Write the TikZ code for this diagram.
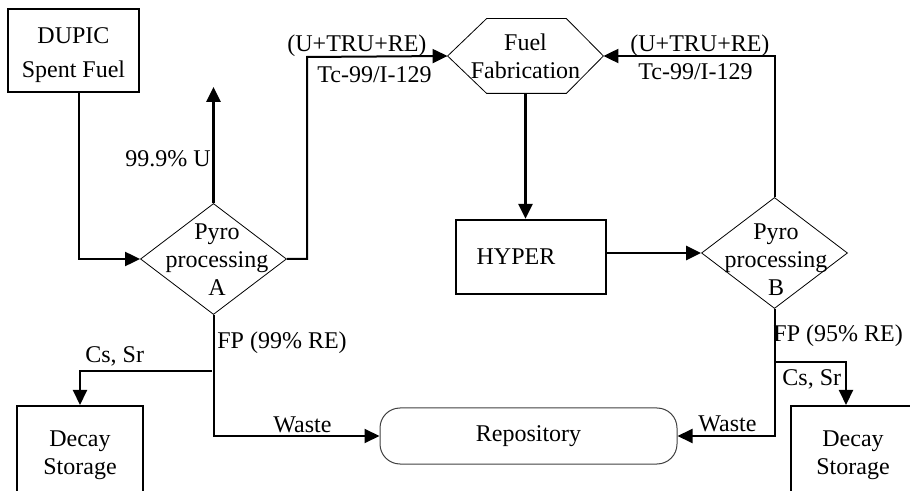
\documentclass[tikz,border=0pt]{standalone}
\usepackage{fontspec}
\setmainfont{Liberation Serif}
\usetikzlibrary{arrows.meta,positioning,shapes.geometric,calc}

\begin{document}
\begin{tikzpicture}[x=0.5pt, y=-0.5pt,
            every node/.style={font=\fontsize{12pt}{14pt}\selectfont},
            box/.style={draw, line width=1.2pt, align=center, inner sep=0pt},
            decay/.style={box, line width=1pt, minimum height=49pt},
            diam/.style={diamond, draw, line width=0.4pt, inner sep=0pt,
                    minimum width=73pt, minimum height=55.5pt},
            txt/.style={align=center, inner sep=0pt},
            hexa/.style={align=center, inner sep=0pt, minimum width=77.5pt, minimum height=37pt},
            store/.style={draw=black!75, line width=0.5pt, rounded corners=10pt,
                    minimum width=148.5pt, minimum height=28pt, inner sep=0pt},
            flow/.style={-{Triangle[length=7.5pt,width=7pt]}, line width=1pt},
            thick flow/.style={flow, line width=1.4pt},
            lbl/.style={anchor=base west, inner sep=0pt}
        ]
        \useasboundingbox (0,0) rectangle (910,491);
        \clip (0,0) rectangle (910,491);

        % ================= blocks =================
        \node[box, minimum width=65.5pt, minimum height=41.5pt]
            (dupic) at (73.5,50.5) {\rule{0pt}{13pt}DUPIC\\[3pt]Spent Fuel};
        \node[diam] (pyroA) at (213.5,259) {};
        \node[txt]  (pyroAt) at (217,260) {Pyro\\processing\\A};
        \node[hexa] (fab) at (525.5,56) {Fuel\\Fabrication};
        \draw[line width=0.4pt] (fab.west) -- ($(fab.north west)+(39,0)$) -- ($(fab.north east)+(-37,0)$)
            -- (fab.east) -- ($(fab.south east)+(-37,0)$) -- ($(fab.south west)+(39,0)$) -- cycle;
        \node[box, minimum width=75pt, minimum height=37pt] (hyper) at (531,257) {HYPER\hspace{15pt}};
        \node[diam] (pyroB) at (774.5,253) {};
        \node[txt]  (pyroBt) at (776,260) {Pyro\\processing\\B};
        \node[store] (repo) at (528.5,436) {Repository\hspace{11pt}};
        \node[decay, minimum width=63pt] (decayA) at (80,455) {Decay\\Storage};
        \node[decay, minimum width=62pt] (decayB) at (853,455) {Decay\\Storage};

        % ================= free ends / bends =================
        \coordinate (uout) at (213.5,87);
        \coordinate (aup)  at (307,57);
        \coordinate (csA)  at (212,371);
        \coordinate (csB)  at (774.5,362);

        % ================= flows =================
        \draw[flow] ([xshift=2.75pt]dupic.south) |- (pyroA.west);
        \draw[thick flow] (pyroA.north) -- (uout);
        \draw[flow] (pyroA.east) -| (aup) -- (fab.west);
        \draw[flow] (pyroB.north) |- (fab.east);
        \draw[thick flow] (fab.south) -- (fab.south |- hyper.north);
        \draw[thick flow] (hyper.east |- pyroB.west) -- (pyroB.west);
        \draw[flow] (pyroA.south) |- (repo.west);
        \draw[flow] (pyroB.south) |- (repo.east);
        \draw[flow] (csA) -| (decayA.north);
        \draw[flow] (csB) -| ([xshift=-3.5pt]decayB.north);

        % ================= labels =================
        \node[lbl] (lu)   at (125,167) {99.9\% U};
        \node[lbl] (la1)  at (287,52)  {(U+TRU+RE)};
        \node[lbl] (la2)  at (317,83)  {Tc-99/I-129};
        \node[lbl] (lb1)  at (630,52)  {(U+TRU+RE)};
        \node[lbl] (lb2)  at (638,80)  {Tc-99/I-129};
        \node[lbl] (lfpA) at (217,349) {FP (99\% RE)};
        \node[lbl] (lfpB) at (773,342) {FP (95\% RE)};
        \node[lbl] (lcsA) at (85,363)  {Cs, Sr};
        \node[lbl] (lcsB) at (782,386) {Cs, Sr};
        \node[lbl] (lwA)  at (273,433) {Waste};
        \node[lbl] (lwB)  at (698,431) {Waste};

    \end{tikzpicture}
\end{document}
